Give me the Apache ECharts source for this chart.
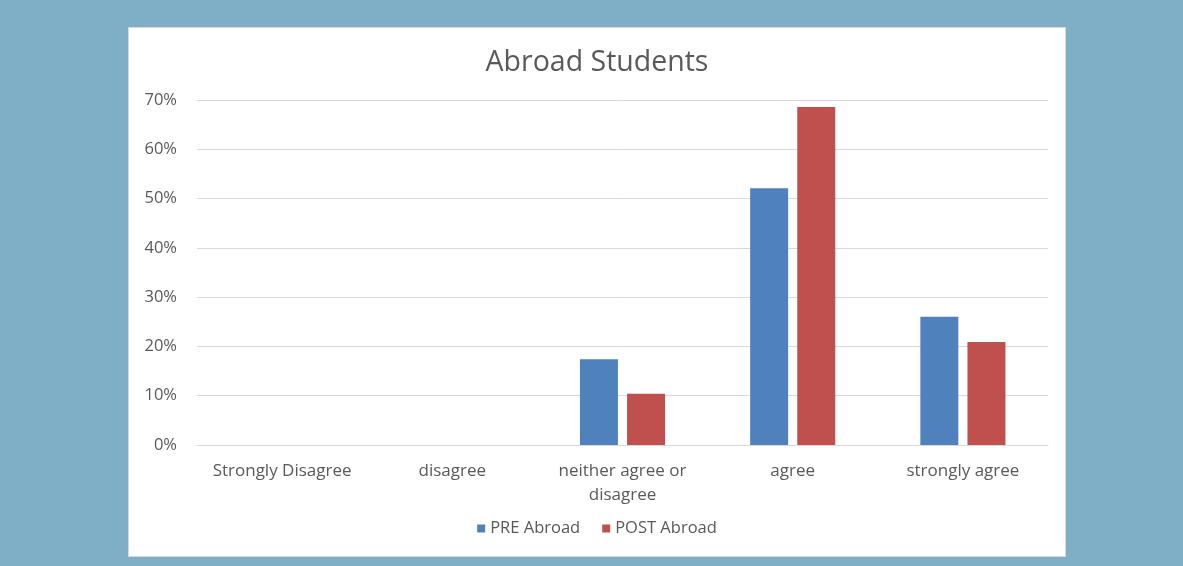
<!DOCTYPE html>
<html lang="en">
<head>
  <meta charset="utf-8">
  <title>Abroad Students</title>
  <script type="text/javascript" src="https://fastly.jsdelivr.net/npm/echarts@6/dist/echarts.min.js"></script>
  <style type="text/css">
    * {
      margin: 0;
      padding: 0;
    }
    html, body {
      width: 100%;
      height: 100%;
      overflow: hidden;
      background: #7FAFC6;
    }
    #panel {
      position: absolute;
      left: 128px;
      top: 27px;
      width: 936px;
      height: 528px;
      background: #fff;
      border: 1px solid #d9d9d9;
    }
    #chart {
      width: 100%;
      height: 100%;
    }
  </style>
</head>
<body>
  <div id="panel"><div id="chart"></div></div>
  <script type="text/javascript">
    var categories = ['Strongly Disagree', 'disagree', 'neither agree or\ndisagree', 'agree', 'strongly agree'];
    var preAbroad = [0, 0, 17.4, 52.1, 26.0];
    var postAbroad = [0, 0, 10.4, 68.6, 20.9];
    var yTicks = [0, 10, 20, 30, 40, 50, 60, 70];

    var font = '"Open Sans", Lato, sans-serif';
    var grey = '#595959';

    var option = {
      animation: false,
      title: {
        text: 'Abroad Students',
        left: 'center',
        top: 15,
        textStyle: { fontFamily: font, fontSize: 28.5, fontWeight: 'normal', color: grey }
      },
      legend: {
        bottom: 14,
        itemWidth: 8,
        itemHeight: 8,
        itemGap: 22,
        icon: 'rect',
        textStyle: { fontFamily: font, fontSize: 16.5, color: grey }
      },
      grid: { left: 68, right: 17, top: 72, bottom: 111 },
      xAxis: {
        type: 'category',
        data: categories,
        axisTick: { show: false },
        axisLine: { lineStyle: { color: '#d9d9d9' } },
        axisLabel: { fontFamily: font, fontSize: 17, color: grey, margin: 14, lineHeight: 24, interval: 0 }
      },
      yAxis: {
        type: 'value',
        min: yTicks[0],
        max: yTicks[yTicks.length - 1],
        interval: 10,
        axisLine: { show: false },
        axisTick: { show: false },
        splitLine: { lineStyle: { color: '#d9d9d9' } },
        axisLabel: { fontFamily: font, fontSize: 16.5, color: grey, margin: 20, formatter: '{value}%' }
      },
      series: [
        {
          name: 'PRE Abroad',
          type: 'bar',
          data: preAbroad,
          barWidth: 38,
          barGap: '24%',
          itemStyle: { color: '#4F81BD' }
        },
        {
          name: 'POST Abroad',
          type: 'bar',
          data: postAbroad,
          barWidth: 38,
          itemStyle: { color: '#C0504D' }
        }
      ]
    };
    var chart = echarts.init(document.getElementById('chart'));
    chart.setOption(option);
  </script>
</body>
</html>
